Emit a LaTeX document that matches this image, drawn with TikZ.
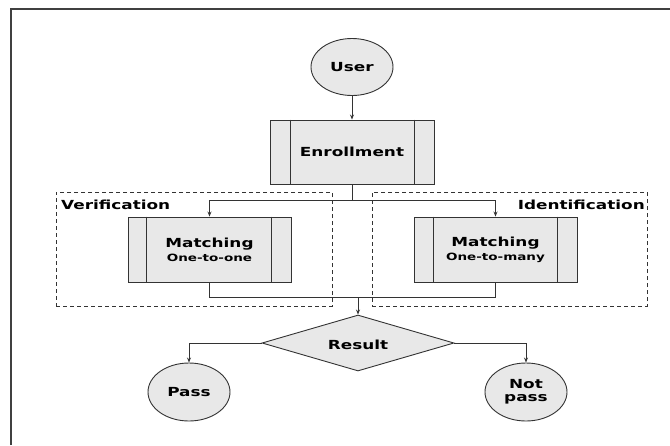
\documentclass[tikz,border=0pt]{standalone}
\usepackage{fontspec}
\usepackage{graphicx}
\setmainfont{DejaVu Sans}
\usetikzlibrary{shapes.geometric,arrows.meta,calc}
\newcommand\wide[1]{\scalebox{1.35}[1]{#1}}
\definecolor{boxfill}{HTML}{E8E8E8}
\definecolor{linecol}{HTML}{333333}
\begin{document}
\begin{tikzpicture}[x=1pt,y=-1pt,
  every node/.style={font=\fontsize{12.5}{15}\selectfont\bfseries, text=black},
  conn/.style={draw=linecol, line width=0.9pt},
  arr/.style={conn, -{Stealth[length=5pt,width=4pt]}},
  oval/.style={ellipse, draw=linecol, line width=0.9pt, fill=boxfill, inner sep=0pt},
  procbox/.style={rectangle, draw=linecol, line width=0.9pt, fill=boxfill, inner sep=0pt, align=center},
  decide/.style={diamond, draw=linecol, line width=0.9pt, fill=boxfill, inner sep=0pt, aspect=3.4},
  groupbox/.style={rectangle, draw=linecol, line width=0.8pt, dash pattern=on 4pt off 3pt, inner sep=0pt},
  sub/.style={font=\fontsize{10}{12}\selectfont\bfseries}
]
\useasboundingbox (0,0) rectangle (670,445);
\fill[white] (0,0) rectangle (670,445);
% frame
\draw[line width=2.2pt, draw=black!75] (11,445) -- (11,9) -- (670,9);

% group boxes
\node[groupbox, minimum width=276, minimum height=114] (ver) at (194,249) {};
\node[groupbox, minimum width=275, minimum height=114] (ide) at (509.5,249) {};
\node[anchor=west, inner sep=0pt] (verlab) at (61,205) {\wide{Verification}};
\node[anchor=east, inner sep=0pt] (idelab) at (645,205) {\wide{Identification}};

% main nodes
\node[oval, minimum width=82, minimum height=57] (user) at (352,67) {\wide{User}};
\node[procbox, minimum width=164, minimum height=64] (enr) at (352,152) {\wide{Enrollment}};
\node[procbox, minimum width=163, minimum height=65] (m1) at (209.5,249.5)
  {\wide{Matching}\\[-1pt]{\fontsize{10}{12}\selectfont\wide{One-to-one}}};
\node[procbox, minimum width=163, minimum height=65] (m2) at (495.5,249.5)
  {\wide{Matching}\\[-1pt]{\fontsize{10}{12}\selectfont\wide{One-to-many}}};
\node[decide, minimum width=192, minimum height=56] (res) at (358,343) {};
\node at (358,345) (reslab) {\wide{Result}};
\node[oval, minimum width=82, minimum height=58] (pass) at (189,392) {\wide{Pass}};
\node[oval, minimum width=82, minimum height=58, align=center] (np) at (526,392)
  {\wide{Not}\\[-2pt]\wide{pass}};

% inner side bars of process boxes
\foreach \n/\l/\r in {enr/21/20, m1/19/20, m2/20/20}{
  \draw[conn] ($(\n.north west)+(\l,0)$) -- ($(\n.south west)+(\l,0)$);
  \draw[conn] ($(\n.north east)-(\r,0)$) -- ($(\n.south east)-(\r,0)$);
}

% connectors
\coordinate (split) at (352,200);
\coordinate (merge) at (358,297);
\draw[arr] (user) -- (enr);
\draw[conn] (enr.south) -- (split);
\draw[arr] (split) -| (m1.north);
\draw[arr] (split) -| (m2.north);
\draw[conn] (m1.south) |- (merge);
\draw[conn] (m2.south) |- (merge);
\draw[arr] (merge) -- (res.north);
\draw[arr] (res.west) -| (pass.north);
\draw[arr] (res.east) -| (np.north);
\end{tikzpicture}
\end{document}
